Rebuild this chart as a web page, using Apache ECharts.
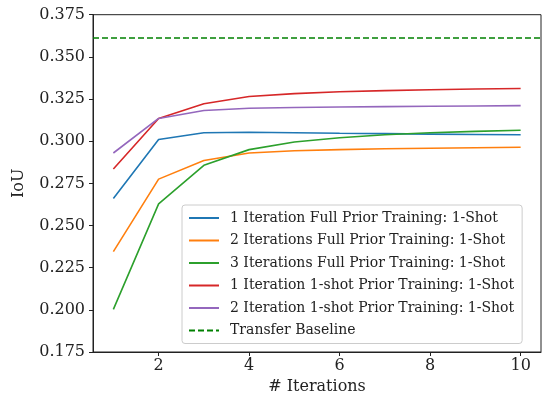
<!DOCTYPE html>
<html><head><meta charset="utf-8">
<script src="https://cdn.jsdelivr.net/npm/echarts@6/dist/echarts.min.js"></script>
<style>html,body{margin:0;padding:0;background:#fff}#c{width:542px;height:398px}</style>
</head><body><div id="c"></div>
<script>
const iterations = [1,2,3,4,5,6,7,8,9,10];
const seriesNames = [
  "1 Iteration Full Prior Training: 1-Shot",
  "2 Iterations Full Prior Training: 1-Shot",
  "3 Iterations Full Prior Training: 1-Shot",
  "1 Iteration 1-shot Prior Training: 1-Shot",
  "2 Iteration 1-shot Prior Training: 1-Shot"
];
const full1 = [0.2660,0.3010,0.3050,0.3053,0.3050,0.3047,0.3045,0.3042,0.3040,0.3038];
const full2 = [0.2345,0.2775,0.2885,0.2930,0.2943,0.2950,0.2955,0.2958,0.2961,0.2964];
const full3 = [0.2003,0.2628,0.2857,0.2950,0.2995,0.3020,0.3038,0.3050,0.3058,0.3065];
const shot1 = [0.2835,0.3135,0.3222,0.3265,0.3282,0.3293,0.3300,0.3305,0.3309,0.3312];
const shot2 = [0.2930,0.3135,0.3182,0.3195,0.3200,0.3203,0.3205,0.3207,0.3209,0.3211];
const baselineName = "Transfer Baseline";
const baselineValue = 0.3612;
const xTicks = [2,4,6,8,10];
const yTicks = [0.175,0.200,0.225,0.250,0.275,0.300,0.325,0.350,0.375];

const colors = ['#1f77b4','#ff7f0e','#2ca02c','#d62728','#9467bd'];
const values = [full1, full2, full3, shot1, shot2];
const font = 'DejaVu Serif';

const series = values.map((v,i)=>({
  name: seriesNames[i], type:'line', symbol:'none', silent:true,
  data: iterations.map((x,j)=>[x,v[j]]),
  lineStyle:{color:colors[i], width:1.6}, itemStyle:{color:colors[i]}
}));
series.push({
  name: baselineName, type:'line', symbol:'none', silent:true,
  data: [[0.55, baselineValue],[10.45, baselineValue]],
  lineStyle:{color:'#008000', width:1.6, type:[6,3]}, itemStyle:{color:'#008000'}
});

const chart = echarts.init(document.getElementById('c'), null, {renderer:'canvas'});
chart.setOption({
  animation:false,
  backgroundColor:'#fff',
  grid:{left:93, right:1, top:14.7, bottom:46, show:true, borderColor:'#222', borderWidth:1,
    backgroundColor:'transparent', containLabel:false, outerBoundsMode:'none'},
  xAxis:{type:'value', min:0.55, max:10.45,
    name:'# Iterations', nameLocation:'middle', nameGap:24,
    nameTextStyle:{fontFamily:font, fontSize:16, color:'#222'},
    axisLine:{show:true, onZero:false, lineStyle:{color:'#222'}},
    splitLine:{show:false},
    axisTick:{show:true, length:4, lineStyle:{color:'#222'}, customValues:xTicks},
    axisLabel:{fontFamily:font, fontSize:16, color:'#222', margin:6, customValues:xTicks}
  },
  yAxis:{type:'value', min:0.175, max:0.375,
    name:'IoU', nameLocation:'middle', nameGap:66,
    nameTextStyle:{fontFamily:font, fontSize:16, color:'#222'},
    axisLine:{show:true, onZero:false, lineStyle:{color:'#222'}},
    splitLine:{show:false},
    axisTick:{show:true, length:4, lineStyle:{color:'#222'}, customValues:yTicks},
    axisLabel:{fontFamily:font, fontSize:16, color:'#222', margin:8, customValues:yTicks,
      formatter:v=>v.toFixed(3)}
  },
  legend:{
    orient:'vertical', left:182, top:205,
    data: seriesNames.concat([baselineName]),
    itemWidth:30, itemHeight:14, itemGap:8.5,
    padding:[6,8,6,6],
    itemStyle:{color:'transparent', borderWidth:0, opacity:0},
    backgroundColor:'rgba(255,255,255,0.85)', borderColor:'#ccc', borderWidth:1, borderRadius:3,
    textStyle:{fontFamily:font, fontSize:14, color:'#222', padding:[0,0,0,6]},
    selectedMode:false
  },
  series: series
});
</script></body></html>
